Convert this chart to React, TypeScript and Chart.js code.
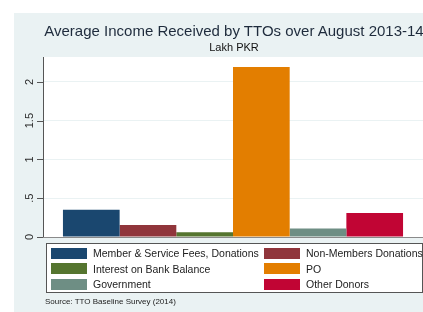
import React, { useEffect, useRef } from "react";
import { Chart, registerables } from "chart.js";

Chart.register(...registerables);

const categories = [""];
const seriesNames = [
  "Member & Service Fees, Donations",
  "Non-Members Donations",
  "Interest on Bank Balance",
  "PO",
  "Government",
  "Other Donors",
];
const seriesValues = [0.35, 0.155, 0.06, 2.19, 0.11, 0.31];
const yTicks = [0, 0.5, 1, 1.5, 2];
const yTickLabels = ["0", ".5", "1", "1.5", "2"];
const titleText = "Average Income Received by TTOs over August 2013-14";
const subtitleText = "Lakh PKR";
const sourceText = "Source: TTO Baseline Survey (2014)";

const colors = ["#1a476f", "#90353b", "#55752f", "#e37e00", "#6e8e84", "#c10534"];
const FONT = "'Liberation Sans', Arial, Helvetica, sans-serif";

export default function App() {
  const ref = useRef<HTMLCanvasElement | null>(null);

  useEffect(() => {
    if (!ref.current) return;
    const bgPlugin = {
      id: "plotbg",
      beforeDraw(chart: any) {
        const { ctx, chartArea } = chart;
        ctx.save();
        ctx.fillStyle = "#ffffff";
        ctx.fillRect(chartArea.left, chartArea.top, chartArea.right - chartArea.left, chartArea.bottom - chartArea.top);
        ctx.restore();
      },
      afterDraw(chart: any) {
        const { ctx } = chart;
        const y = chart.scales.y;
        ctx.save();
        ctx.fillStyle = "#2b2b2b";
        ctx.font = `11px ${FONT}`;
        ctx.textAlign = "center";
        ctx.textBaseline = "middle";
        yTicks.forEach((v, i) => {
          const py = y.getPixelForValue(v);
          ctx.save();
          ctx.translate(30, py);
          ctx.rotate(-Math.PI / 2);
          ctx.fillText(yTickLabels[i], 0, 0);
          ctx.restore();
          ctx.strokeStyle = "#555";
          ctx.lineWidth = 1;
          ctx.beginPath();
          ctx.moveTo(37, Math.round(py) + 0.5);
          ctx.lineTo(43, Math.round(py) + 0.5);
          ctx.stroke();
        });
        const by = Math.round(y.getPixelForValue(0)) + 0.5;
        ctx.strokeStyle = "#8a8a8a";
        ctx.beginPath();
        ctx.moveTo(chart.chartArea.left, by);
        ctx.lineTo(chart.chartArea.right, by);
        ctx.stroke();
        ctx.restore();
      },
    };

    const chart = new Chart(ref.current, {
      type: "bar",
      data: {
        labels: categories,
        datasets: seriesNames.map((n, i) => ({
          label: n,
          data: [seriesValues[i]],
          backgroundColor: colors[i],
          borderWidth: 0,
          categoryPercentage: 0.895,
          barPercentage: 1,
        })),
      },
      options: {
        animation: false,
        responsive: false,
        maintainAspectRatio: false,
        layout: { padding: { top: 57, bottom: 75, left: 0, right: 0 } },
        plugins: { legend: { display: false }, tooltip: { enabled: false }, title: { display: false } },
        scales: {
          x: { display: false },
          y: {
            min: 0,
            max: 2.32,
            afterFit(s: any) {
              s.width = 43;
            },
            afterBuildTicks(s: any) {
              s.ticks = yTicks.map((v) => ({ value: v }));
            },
            ticks: { display: false },
            grid: { color: "#eaf2f3", lineWidth: 1, drawTicks: false },
            border: { display: true, color: "#555", width: 1 },
          },
        },
      },
      plugins: [bgPlugin],
    });
    return () => chart.destroy();
  }, []);

  const legendRows = [0, 1, 2];
  return (
    <div style={{ position: "absolute", left: 0, top: 0, width: 423, height: 312, background: "#fff", overflow: "hidden", fontFamily: FONT }}>
      <div style={{ position: "absolute", left: 14, top: 13, right: 0, bottom: 0, background: "#eaf2f3" }} />
      <canvas ref={ref} width={423} height={312} style={{ position: "absolute", left: 0, top: 0 }} />
      <div style={{ position: "absolute", left: 43, width: 382, top: 21, textAlign: "center", fontSize: 15, color: "#1e2b3c", lineHeight: "20px", whiteSpace: "nowrap" }}>
        {titleText}
      </div>
      <div style={{ position: "absolute", left: 43, width: 382, top: 40, textAlign: "center", fontSize: 11, color: "#111", lineHeight: "14px" }}>
        {subtitleText}
      </div>
      <div style={{ position: "absolute", left: 46, top: 243, width: 375, height: 48, background: "#fff", border: "1px solid #555" }}>
        {legendRows.map((r) =>
          [0, 1].map((c) => {
            const i = r * 2 + c;
            return (
              <div key={i} style={{ position: "absolute", left: c === 0 ? 4 : 217, top: 3 + r * 15.5, height: 12, display: "flex", alignItems: "center", whiteSpace: "nowrap" }}>
                <div style={{ width: 36, height: 11, background: colors[i] }} />
                <span style={{ marginLeft: 6, fontSize: 10.5, color: "#222", lineHeight: "12px" }}>{seriesNames[i]}</span>
              </div>
            );
          })
        )}
      </div>
      <div style={{ position: "absolute", left: 45, top: 297, fontSize: 8, color: "#222", lineHeight: "10px", whiteSpace: "nowrap" }}>
        {sourceText}
      </div>
    </div>
  );
}
